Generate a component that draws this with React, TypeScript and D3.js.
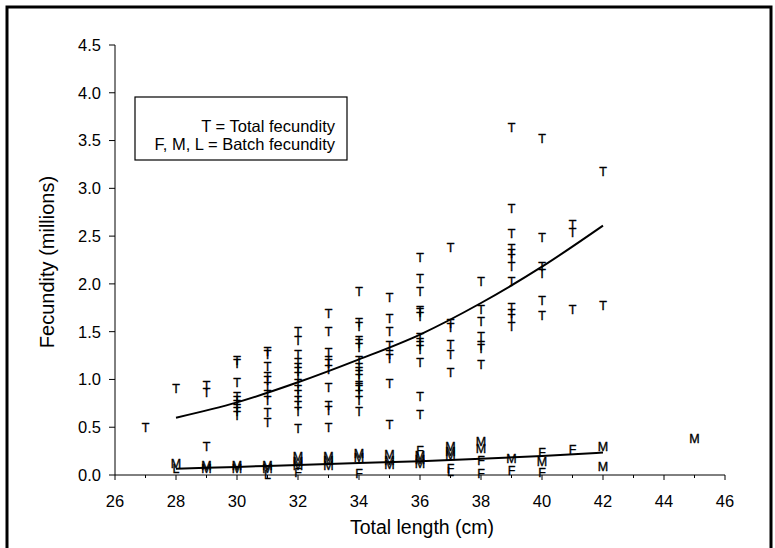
import React from 'react';
import * as d3 from 'd3';

// total fecundity (T), grouped by total length (cm)
const tLengths = [27, 28, 29, 30, 31, 32, 33, 34, 35, 36, 37, 38, 39, 40, 41, 42];
const tValues = [
  [0.5],
  [0.91],
  [0.94, 0.86, 0.3],
  [1.2, 1.17, 0.97, 0.82, 0.78, 0.74, 0.7, 0.66, 0.62],
  [1.29, 1.26, 1.14, 1.03, 0.99, 0.93, 0.84, 0.78, 0.65, 0.55],
  [1.5, 1.41, 1.26, 1.18, 1.13, 1.08, 1.03, 0.96, 0.89, 0.84, 0.78, 0.73, 0.66, 0.49],
  [1.69, 1.5, 1.28, 1.2, 1.17, 1.1, 0.92, 0.73, 0.68, 0.5],
  [1.92, 1.6, 1.55, 1.41, 1.38, 1.33, 1.2, 1.13, 1.08, 1.05, 1.01, 0.94, 0.92, 0.89, 0.84, 0.78, 0.66],
  [1.86, 1.64, 1.5, 1.36, 1.26, 1.22, 0.96, 0.53],
  [2.28, 2.06, 1.92, 1.72, 1.7, 1.66, 1.44, 1.39, 1.36, 1.31, 1.18, 0.82, 0.63],
  [2.38, 1.59, 1.54, 1.37, 1.26, 1.07],
  [2.03, 1.73, 1.61, 1.45, 1.36, 1.32, 1.16],
  [3.64, 2.79, 2.53, 2.37, 2.32, 2.27, 2.18, 2.02, 1.75, 1.69, 1.64, 1.55],
  [3.52, 2.49, 2.18, 2.11, 1.83, 1.67],
  [2.62, 2.54, 1.73],
  [3.18, 1.77]
];

// batch fecundity markers: [length, value]
const batchM: [number, number][] = [
  [28, 0.12], [29, 0.1], [29, 0.07], [30, 0.1], [30, 0.07], [31, 0.1], [31, 0.07],
  [32, 0.19], [32, 0.14], [32, 0.1], [33, 0.19], [33, 0.15], [33, 0.1],
  [34, 0.23], [34, 0.18], [35, 0.21], [35, 0.15], [35, 0.11],
  [36, 0.2], [36, 0.16], [36, 0.12], [37, 0.3], [37, 0.25], [37, 0.2],
  [38, 0.35], [38, 0.28], [39, 0.17], [40, 0.14], [42, 0.3], [42, 0.09], [45, 0.38]
];
const batchF: [number, number][] = [
  [32, 0.03], [34, 0.02], [36, 0.26], [37, 0.07], [38, 0.15], [38, 0.02],
  [39, 0.05], [40, 0.24], [40, 0.03], [41, 0.27]
];
const batchL: [number, number][] = [[28, 0.07], [31, 0.01], [37, 0.04]];

// fitted curves
const fitLengths = [28, 30, 32, 34, 36, 38, 40, 42];
const totalFit = [0.6, 0.76, 0.97, 1.21, 1.47, 1.8, 2.18, 2.61];
const batchFit = [0.065, 0.085, 0.105, 0.125, 0.145, 0.17, 0.2, 0.235];

const xTicks = d3.range(26, 47, 2);
const yTicks = d3.range(0, 4.51, 0.5);

const font = '"Liberation Sans", Arial, sans-serif';

export default function App() {
  const x = d3.scaleLinear().domain([26, 46]).range([115, 725]);
  const y = d3.scaleLinear().domain([0, 4.5]).range([475, 45]);
  const line = d3.line<number>()
    .x((_, i) => x(fitLengths[i]))
    .y(d => y(d))
    .curve(d3.curveMonotoneX);

  // letter symbols, stroked a little so they read as heavy as the scanned ones
  const marker = (ch: string, px: number, py: number, k: string) => (
    <text key={k} x={px} y={py} textAnchor="middle" dy="0.36em" fontSize={12.5}
      fill="#000" stroke="#000" strokeWidth={0.35}>{ch}</text>
  );

  return (
    <svg width={775} height={548}
      style={{ position: 'absolute', left: 0, top: 0, fontFamily: font }}>
      <rect x={0} y={0} width={775} height={548} fill="#fff" />
      <rect x={7} y={7} width={764} height={560} fill="none" stroke="#000" strokeWidth={3} />

      {/* axes */}
      <line x1={x(26)} x2={x(26)} y1={y(4.5)} y2={y(0)} stroke="#000" strokeWidth={1} />
      <line x1={x(26)} x2={x(46)} y1={y(0)} y2={y(0)} stroke="#000" strokeWidth={1} />
      {yTicks.map(t => (
        <g key={'y' + t}>
          <line x1={x(26) - 6} x2={x(26)} y1={y(t)} y2={y(t)} stroke="#000" />
          <text x={x(26) - 14} y={y(t)} dy="0.36em" textAnchor="end" fontSize={16.5}>{t.toFixed(1)}</text>
        </g>
      ))}
      {d3.range(26, 47, 1).map(t => (
        <line key={'xt' + t} x1={x(t)} x2={x(t)} y1={y(0)} y2={y(0) + (t % 2 === 0 ? 5 : 3)} stroke="#000" />
      ))}
      {xTicks.map(t => (
        <text key={'xl' + t} x={x(t)} y={507} textAnchor="middle" fontSize={16.5}>{t}</text>
      ))}
      <text x={422} y={534} textAnchor="middle" fontSize={19.5}>Total length (cm)</text>
      <text transform="translate(54,262) rotate(-90)" textAnchor="middle" fontSize={20}>Fecundity (millions)</text>

      {/* legend */}
      <rect x={135} y={97} width={212} height={63} fill="#fff" stroke="#000" strokeWidth={1.2} />
      <text x={335} y={132} textAnchor="end" fontSize={16.5}>T = Total fecundity</text>
      <text x={335} y={150} textAnchor="end" fontSize={16.5}>F, M, L = Batch fecundity</text>

      {/* data */}
      {tLengths.map((L, i) => tValues[i].map((v, j) => marker('T', x(L), y(v), `t${i}-${j}`)))}
      {batchM.map(([L, v], i) => marker('M', x(L), y(v), 'm' + i))}
      {batchF.map(([L, v], i) => marker('F', x(L), y(v), 'f' + i))}
      {batchL.map(([L, v], i) => marker('L', x(L), y(v), 'l' + i))}

      <path d={line(totalFit) ?? ''} fill="none" stroke="#000" strokeWidth={2} />
      <path d={line(batchFit) ?? ''} fill="none" stroke="#000" strokeWidth={2} />
    </svg>
  );
}
